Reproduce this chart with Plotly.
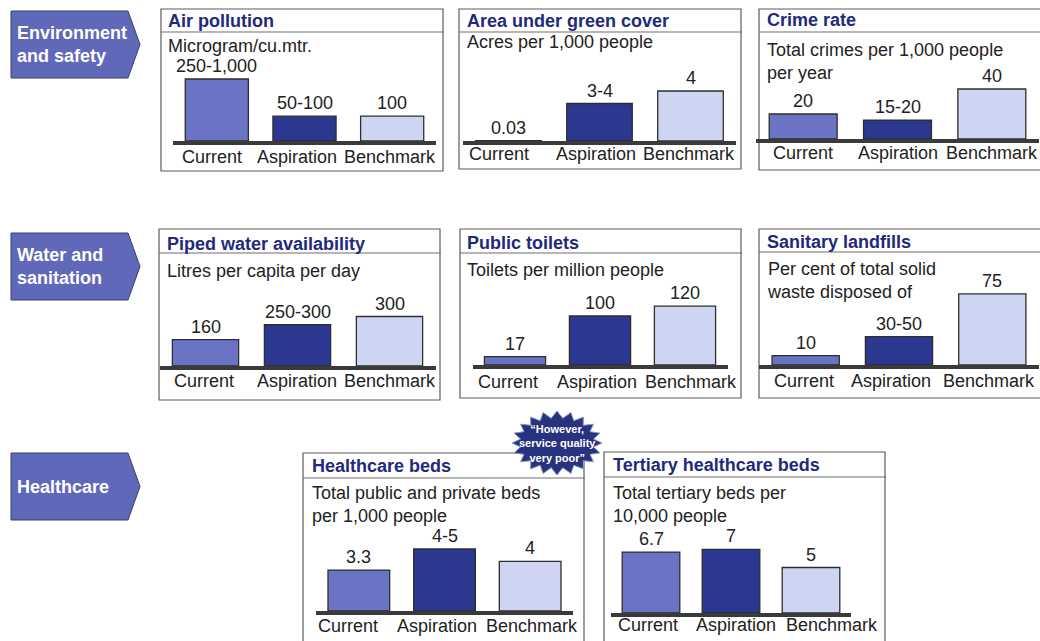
import numpy as np
import plotly.graph_objects as go

W, H = 1040, 641

# ---- data -----------------------------------------------------------------
categories = ["Current", "Aspiration", "Benchmark"]

air_values = [250, 100, 100]
air_labels = ["250-1,000", "50-100", "100"]

green_values = [0.03, 3, 4]
green_labels = ["0.03", "3-4", "4"]

crime_values = [20, 15, 40]
crime_labels = ["20", "15-20", "40"]

water_values = [160, 250, 300]
water_labels = ["160", "250-300", "300"]

toilet_values = [17, 100, 120]
toilet_labels = ["17", "100", "120"]

landfill_values = [10, 30, 75]
landfill_labels = ["10", "30-50", "75"]

beds_values = [3.3, 5, 4]
beds_labels = ["3.3", "4-5", "4"]

tertiary_values = [6.7, 7, 5]
tertiary_labels = ["6.7", "7", "5"]

section_names = ["Environment<br>and safety", "Water and<br>sanitation", "Healthcare"]
callout_text = "\u201cHowever,<br>service quality<br>very poor\u201d"

# ---- styling --------------------------------------------------------------
FONT = "Liberation Sans, Arial, sans-serif"
BAR_COLORS = ["#6b73c5", "#2c3790", "#cdd5f2"]
TITLE_COLOR = "#1f2a7c"
TEXT_COLOR = "#222222"
BOX_COLOR = "#5c5c5c"
BASE_COLOR = "#3a3a3a"
ARROW_FILL = "#6068ba"
STAR_FILL = "#27337f"


def px(x):
    return x / W


def py(y):
    return 1 - y / H


# panel geometry in pixels: box, title rule, title/subtitle anchors,
# baseline, plot x-extent, pixels per data unit, and category-label offsets
panels = [
    dict(title="Air pollution", sub="Microgram/cu.mtr.", values=air_values, labels=air_labels,
         box=(161, 9, 443, 171), rule=32, tpos=(166, 21), spos=45, base=141, xdom=(173, 436), k=0.248,
         cat_dx=(-5, -8, -2), cat_dy=16),
    dict(title="Area under green cover", sub="Acres per 1,000 people", values=green_values, labels=green_labels,
         box=(459, 9, 741, 169), rule=32, tpos=(465, 21), spos=41, base=141, xdom=(463, 736), k=12.5,
         cat_dx=(-10, -4, -2), cat_dy=13),
    dict(title="Crime rate", sub="Total crimes per 1,000 people<br>per year", values=crime_values, labels=crime_labels,
         box=(759, 9, 1046, 170), rule=32, tpos=(765, 20), spos=49, base=139, xdom=(756, 1039), k=1.25,
         cat_dx=(0, 0, 0), cat_dy=14),
    dict(title="Piped water availability", sub="Litres per capita per day", values=water_values, labels=water_labels,
         box=(159, 229, 440, 400), rule=253, tpos=(165, 244), spos=270, base=366, xdom=(159.5, 435.5), k=0.165,
         cat_dx=(-2, -1, 0), cat_dy=15),
    dict(title="Public toilets", sub="Toilets per million people", values=toilet_values, labels=toilet_labels,
         box=(460, 229, 741, 398), rule=253, tpos=(465, 243), spos=269, base=365, xdom=(472.5, 727.5), k=0.49,
         cat_dx=(-7, -3, 6), cat_dy=17),
    dict(title="Sanitary landfills", sub="Per cent of total solid<br>waste disposed of", values=landfill_values,
         labels=landfill_labels, box=(759, 229, 1046, 398), rule=252, tpos=(765, 242), spos=268, base=365,
         xdom=(759, 1039), k=0.947, cat_dx=(-2, -8, -3), cat_dy=16),
    dict(title="Healthcare beds", sub="Total public and private beds<br>per 1,000 people", values=beds_values,
         labels=beds_labels, box=(303, 453, 584, 660), rule=478, tpos=(310, 466), spos=492, base=611,
         xdom=(316, 573), k=12.4, cat_dx=(-11, -8, 2), cat_dy=15),
    dict(title="Tertiary healthcare beds", sub="Total tertiary beds per<br>10,000 people", values=tertiary_values,
         labels=tertiary_labels, box=(604, 452, 885, 660), rule=477, tpos=(611, 465), spos=492, base=613,
         xdom=(611, 851), k=9.1, cat_dx=(-3, 5, 21), cat_dy=12),
]

fig = go.Figure()
layout = dict(
    width=W, height=H,
    margin=dict(l=0, r=0, t=0, b=0, autoexpand=False),
    paper_bgcolor="white", plot_bgcolor="rgba(0,0,0,0)",
    showlegend=False,
    bargap=0.28,
    font=dict(family=FONT, color=TEXT_COLOR, size=18),
)
shapes = []
annotations = []

for i, p in enumerate(panels, start=1):
    sfx = "" if i == 1 else str(i)
    xname, yname = "x" + sfx, "y" + sfx
    x0, y0, x1, y1 = p["box"]

    # frame and title rule
    shapes.append(dict(type="rect", xref="paper", yref="paper", x0=px(x0), x1=px(x1), y0=py(y1), y1=py(y0),
                       line=dict(color=BOX_COLOR, width=1.2), fillcolor="rgba(0,0,0,0)", layer="below"))
    shapes.append(dict(type="line", xref="paper", yref="paper", x0=px(x0), x1=px(x1 + 1), y0=py(p["rule"]),
                       y1=py(p["rule"]), line=dict(color="#6e6e6e", width=1.2)))

    top = p["rule"] + 2
    ymax = (p["base"] - top) / p["k"]
    layout["xaxis" + sfx] = dict(
        domain=[px(p["xdom"][0]), px(p["xdom"][1])], anchor=yname, type="category",
        range=[-0.5, 2.5], showline=True, linewidth=4, linecolor=BASE_COLOR,
        ticks="", showticklabels=False, showgrid=False, zeroline=False,
        fixedrange=True, automargin=False,
    )
    layout["yaxis" + sfx] = dict(
        domain=[py(p["base"]), py(top)], anchor=xname, range=[0, ymax],
        visible=False, fixedrange=True, automargin=False,
    )

    fig.add_trace(go.Bar(
        x=categories, y=p["values"], xaxis=xname, yaxis=yname,
        marker=dict(color=BAR_COLORS, line=dict(color="#2e2e2e", width=1.3)),
        hoverinfo="skip", showlegend=False,
    ))

    for cat, val, lab, dx in zip(categories, p["values"], p["labels"], p["cat_dx"]):
        # value above each bar
        annotations.append(dict(x=cat, y=val, xref=xname, yref=yname, text=lab, showarrow=False,
                                yanchor="bottom", yshift=1, font=dict(family=FONT, size=18, color=TEXT_COLOR)))
        # category name under the baseline
        annotations.append(dict(x=cat, y=0, xref=xname, yref=yname, text=cat, showarrow=False,
                                yanchor="middle", xshift=dx, yshift=-p["cat_dy"],
                                font=dict(family=FONT, size=18, color=TEXT_COLOR)))

    annotations.append(dict(x=px(p["tpos"][0]), y=py(p["tpos"][1]), xref="paper", yref="paper",
                            text="<b>%s</b>" % p["title"], showarrow=False, xanchor="left", yanchor="middle",
                            font=dict(family=FONT, size=18, color=TITLE_COLOR)))
    annotations.append(dict(x=px(p["tpos"][0]), y=py(p["spos"] - 11), xref="paper", yref="paper",
                            text=p["sub"], showarrow=False, xanchor="left", yanchor="top", align="left",
                            font=dict(family=FONT, size=18, color=TEXT_COLOR)))

# section chevrons on the left
for name, (ytop, ybot) in zip(section_names, [(11, 78), (233, 300), (453, 520)]):
    ymid = (ytop + ybot) / 2
    path = "M {a},{b} L {c},{b} L {d},{m} L {c},{e} L {a},{e} Z".format(
        a=px(11), b=py(ytop), c=px(128), d=px(140), m=py(ymid), e=py(ybot))
    shapes.append(dict(type="path", xref="paper", yref="paper", path=path,
                       fillcolor=ARROW_FILL, line=dict(color="#3b3f66", width=1)))
    annotations.append(dict(x=px(15), y=py(ymid), xref="paper", yref="paper", text="<b>%s</b>" % name,
                            showarrow=False, xanchor="left", yanchor="middle", align="left",
                            font=dict(family=FONT, size=18, color="white")))

# starburst callout over the healthcare panels
cx, cy, n_spikes = 557, 443, 20
ang = np.linspace(0, 2 * np.pi, 2 * n_spikes, endpoint=False) + np.pi / 2
rx = np.where(np.arange(2 * n_spikes) % 2 == 0, 45, 37)
ry = np.where(np.arange(2 * n_spikes) % 2 == 0, 32, 25)
pts = [(px(cx + a * np.cos(t)), py(cy - b * np.sin(t))) for t, a, b in zip(ang, rx, ry)]
star_path = "M " + " L ".join("%.5f,%.5f" % q for q in pts) + " Z"
shapes.append(dict(type="path", xref="paper", yref="paper", path=star_path,
                   fillcolor=STAR_FILL, line=dict(color="#8c93c8", width=1)))
annotations.append(dict(x=px(cx), y=py(cy), xref="paper", yref="paper", text="<b>%s</b>" % callout_text,
                        showarrow=False, xanchor="center", yanchor="middle", align="center",
                        font=dict(family=FONT, size=11, color="white")))

layout["shapes"] = shapes
layout["annotations"] = annotations
fig.update_layout(**layout)
fig.write_html("out.html")
